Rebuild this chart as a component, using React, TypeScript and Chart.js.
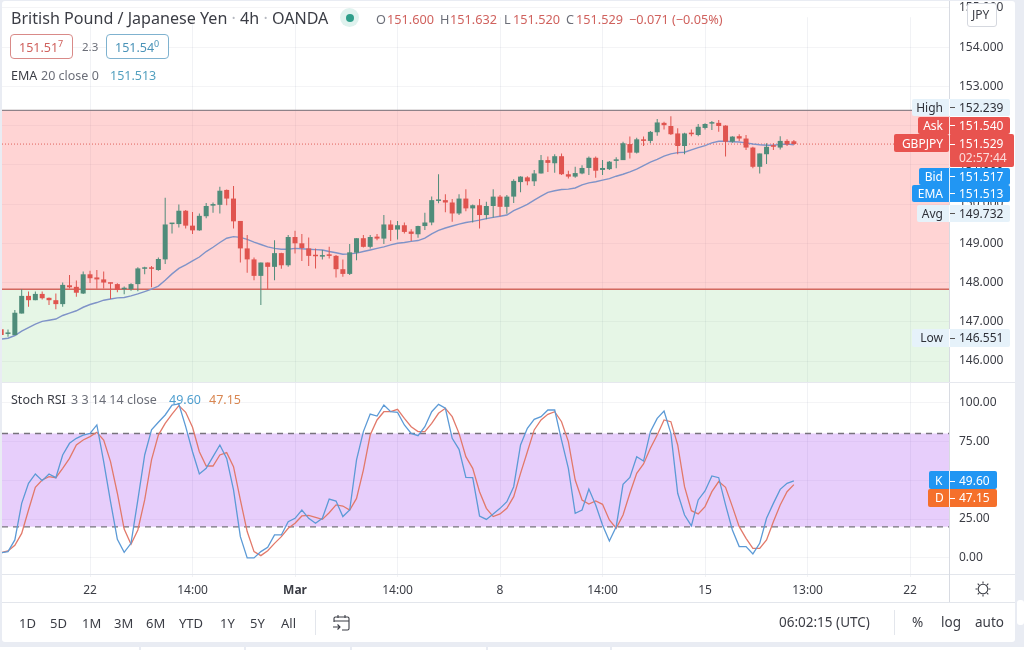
import React, { useEffect, useRef } from "react";
import { Chart, registerables } from "chart.js";

Chart.register(...registerables);

const opens = [
  146.81,146.69,146.66,147.21,147.66,147.55,147.71,147.61,147.55,147.45,147.93,147.89,147.72,
  148.21,148.13,148.08,148.00,147.96,147.83,147.83,147.96,148.35,148.37,
  148.32,148.59,149.49,149.49,149.83,149.45,149.33,149.69,149.96,149.98,
  150.36,150.14,149.57,148.87,148.59,148.17,148.51,148.40,148.75,148.44,
  149.16,149.00,148.87,148.68,148.66,148.70,148.68,148.34,148.22,148.76,
  149.13,148.91,149.17,149.12,149.48,149.35,149.46,149.30,149.23,149.44,
  149.53,150.08,150.10,150.04,149.76,150.14,149.89,149.97,149.72,149.95,
  150.19,149.93,150.19,150.56,150.68,150.58,150.78,151.12,151.04,151.22,
  150.76,150.70,150.78,150.92,151.18,150.87,150.89,151.10,151.12,151.53,
  151.31,151.65,151.61,151.83,152.07,151.99,151.80,151.48,151.82,151.76,
  151.94,152.05,152.07,152.00,151.59,151.73,151.67,151.44,150.95,151.27,
  151.50,151.44,151.61,151.600,
];
const highs = [
  146.83,146.80,147.30,147.83,147.77,147.77,147.77,147.62,147.72,148.00,148.19,148.05,148.28,
  148.30,148.32,148.28,148.00,147.98,147.90,147.98,148.39,148.40,148.42,
  148.64,150.16,149.52,149.99,149.85,149.80,149.76,150.03,150.04,150.44,
  150.37,150.46,149.57,149.21,148.64,148.51,148.51,149.08,148.76,149.21,
  149.32,149.24,149.15,148.87,148.83,148.91,148.70,148.59,148.98,149.13,
  149.21,149.21,149.24,149.72,149.59,149.57,149.53,149.36,149.45,149.78,
  150.19,150.76,150.25,150.13,150.25,150.38,149.99,150.13,150.06,150.38,
  150.23,150.23,150.63,150.71,150.71,150.87,151.25,151.21,151.27,151.29,
  150.85,150.95,150.99,151.21,151.21,151.12,151.10,151.19,151.59,151.72,
  151.69,151.72,151.86,152.17,152.10,152.24,151.93,151.82,151.90,152.04,
  152.06,152.12,152.14,152.01,151.73,151.78,151.76,151.46,151.29,151.55,
  151.55,151.73,151.65,151.632,
];
const lows = [
  146.65,146.62,146.66,147.21,147.38,147.55,147.57,147.43,147.32,147.38,147.85,147.64,147.71,
  147.99,147.84,147.85,147.58,147.75,147.70,147.79,147.78,148.21,147.88,
  148.30,148.47,149.25,149.40,149.38,149.24,149.32,149.64,149.78,149.76,
  149.97,149.38,148.51,148.25,148.06,147.43,147.83,148.06,148.35,148.40,
  148.74,148.55,148.42,148.36,148.59,148.61,148.13,148.15,148.19,148.57,
  148.89,148.87,149.08,148.98,149.06,149.10,149.25,149.06,149.14,149.34,
  149.46,150.02,149.79,149.55,149.72,149.82,149.53,149.38,149.61,149.66,
  149.69,149.75,150.03,150.30,150.48,150.46,150.78,150.82,150.80,150.74,
  150.65,150.67,150.76,150.74,150.67,150.74,150.87,150.91,151.12,151.16,
  151.29,151.48,151.55,151.74,151.90,151.76,151.27,151.27,151.73,151.73,
  151.90,151.89,151.84,151.21,151.56,151.61,151.38,150.91,150.78,151.02,
  151.38,151.39,151.48,151.520,
];
const closes = [
  146.66,146.70,147.23,147.66,147.55,147.71,147.60,147.55,147.45,147.94,147.88,147.74,148.21,
  148.11,148.08,148.00,147.97,147.81,147.84,147.96,148.36,148.37,148.35,
  148.60,149.48,149.51,149.83,149.45,149.33,149.70,149.95,150.00,150.34,
  150.14,149.56,148.87,148.59,148.17,148.51,148.40,148.75,148.44,149.16,
  149.00,148.88,148.68,148.67,148.70,148.68,148.34,148.22,148.77,149.13,
  148.91,149.16,149.12,149.48,149.34,149.46,149.29,149.24,149.44,149.53,
  150.10,150.10,150.04,149.76,150.14,149.89,149.97,149.72,149.95,150.19,
  149.93,150.19,150.59,150.70,150.58,150.78,151.12,151.05,151.22,150.76,
  150.70,150.79,150.92,151.18,150.85,150.92,151.08,151.14,151.55,151.31,
  151.65,151.61,151.84,152.08,152.01,151.78,151.48,151.80,151.78,151.97,
  152.04,152.07,151.99,151.59,151.72,151.67,151.44,150.95,151.29,151.46,
  151.46,151.61,151.52,151.529,
];
const emaValues = [
  146.56,146.58,146.65,146.76,146.85,146.94,147.01,147.04,147.07,147.16,147.22,147.28,147.37,
  147.44,147.49,147.55,147.58,147.61,147.62,147.66,147.71,147.77,147.83,
  147.91,148.06,148.22,148.36,148.45,148.55,148.65,148.79,148.90,149.02,
  149.13,149.17,149.15,149.10,149.03,148.97,148.91,148.87,148.85,148.85,
  148.87,148.86,148.85,148.84,148.83,148.79,148.76,148.72,148.73,148.75,
  148.79,148.83,148.87,148.91,148.96,149.00,149.02,149.05,149.07,149.13,
  149.24,149.33,149.39,149.44,149.49,149.53,149.56,149.59,149.63,149.66,
  149.69,149.72,149.83,149.91,149.99,150.10,150.20,150.30,150.34,150.37,
  150.38,150.41,150.49,150.54,150.57,150.61,150.65,150.71,150.76,150.82,
  150.89,150.98,151.07,151.14,151.22,151.28,151.31,151.32,151.38,151.44,
  151.49,151.56,151.60,151.60,151.59,151.58,151.56,151.53,151.51,151.50,
  151.50,151.52,151.53,151.513,
];
const stochK = [
  3.4,4.1,11.6,35.1,48.0,54.0,49.7,54.0,51.6,66.2,73.7,76.9,79.0,
  80.1,85.5,61.9,36.2,12.0,3.6,9.4,37.3,66.2,82.3,
  87.2,91.9,98.3,99.0,84.4,68.3,54.0,57.6,65.1,72.6,
  64.0,43.7,13.7,0,0,4.1,6.9,14.8,14.8,23.3,
  25.5,30.8,25.5,22.3,25.5,37.9,36.6,
  26.6,30.8,63.0,
  81.2,92.5,91.2,98.3,94.0,93.6,85.5,80.1,78.6,84.4,
  94.0,98.7,96.2,76.9,69.8,51.8,51.6,27.0,24.8,28.3,
  31.9,36.2,45.8,72.6,83.3,89.1,90.8,95.1,95.1,75.8,
  57.6,28.7,30.8,44.3,34.1,21.2,10.9,20.1,47.3,51.8,
  65.1,62.3,81.2,89.7,94.5,80.1,41.6,27.6,20.6,37.3,
  43.1,52.7,51.6,34.1,18.0,7.3,7.3,2.6,9.4,25.5,
  35.1,44.1,48.0,49.60,
];
const stochD = [
  3.4,4.5,8.1,15.8,30.8,45.4,50.1,52.3,51.6,57.6,64.0,72.6,75.8,
  78.0,80.8,75.8,61.9,41.6,18.6,8.8,18.0,37.3,63.0,
  79.0,86.5,92.5,97.9,93.6,84.0,68.3,59.1,59.1,66.2,
  67.7,58.7,37.3,17.0,4.1,1.5,4.7,9.4,13.7,19.1,
  22.3,27.0,27.4,26.1,24.8,29.1,34.1,
  33.4,30.8,38.3,
  56.5,79.0,88.7,94.0,94.0,95.5,89.7,84.4,81.2,81.2,
  86.5,93.0,96.2,90.8,80.1,65.1,57.6,42.6,31.9,26.6,
  28.3,31.9,39.4,54.4,68.3,82.3,88.7,92.3,94.0,87.6,
  74.8,50.1,37.3,34.7,36.6,34.5,24.4,19.1,27.6,41.6,
  54.4,60.4,70.5,79.0,88.7,87.6,72.6,45.8,30.4,28.3,
  33.0,42.6,49.1,45.4,33.0,20.1,12.6,6.2,6.2,11.6,
  23.3,34.1,42.6,47.15,
];

const firstCandle = -13;
const timeTickPositions = [0, 15, 30, 45, 60, 75, 90, 105, 120];
const timeTickLabels = ["22", "14:00", "Mar", "14:00", "8", "14:00", "15", "13:00", "22"];
const timeRange = [-12.88, 125.7];
const priceRange = [145.465, 155.15];
const stochRange = [-10.3, 113.1];
const zoneTop = 152.39;
const zoneMiddle = 147.83;
const lastPrice = 151.529;
const stochUpper = 80;
const stochLower = 20;

const FONT = '"Noto Sans", sans-serif';
const UP = "#4f8c7a";
const DOWN = "#e0544f";

const series = (vals: number[]) => vals.map((y, i) => ({ x: firstCandle + i, y }));
const flat = (y: number) => timeRange.map((x) => ({ x, y }));

function buildDatasets(): any[] {
  const colors = closes.map((c, i) => (c >= opens[i] ? UP : DOWN));
  const line = { type: "line", pointRadius: 0, tension: 0, fill: false };
  return [
    { ...line, label: "Above", data: flat(zoneTop), yAxisID: "y", order: 20, borderColor: "#8f8289", borderWidth: 1.2,
      fill: { target: { value: zoneMiddle }, above: "rgba(255,120,120,0.32)", below: "rgba(255,120,120,0.32)" } },
    { ...line, label: "Below", data: flat(zoneMiddle), yAxisID: "y", order: 19, borderColor: "#d2695f", borderWidth: 1.6,
      fill: { target: { value: priceRange[0] }, above: "rgba(120,205,120,0.19)", below: "rgba(120,205,120,0.19)" } },
    { ...line, label: "Last", data: flat(lastPrice), yAxisID: "y", order: 18, borderColor: "#e0605a", borderWidth: 1, borderDash: [1, 2] },
    { ...line, label: "Upper", data: flat(stochUpper), yAxisID: "y2", order: 17, borderColor: "#77737c", borderWidth: 1.3, borderDash: [6, 5],
      fill: { target: { value: stochLower }, above: "rgba(170,80,240,0.28)", below: "rgba(170,80,240,0.28)" } },
    { ...line, label: "Lower", data: flat(stochLower), yAxisID: "y2", order: 16, borderColor: "#77737c", borderWidth: 1.3, borderDash: [6, 5] },
    { ...line, label: "EMA", data: series(emaValues), yAxisID: "y", order: 12, borderColor: "#7f93c8", borderWidth: 1.4 },
    { type: "bar", label: "Wicks", yAxisID: "y", order: 11, grouped: false, barThickness: 1, inflateAmount: 0, borderSkipped: false, borderWidth: 0,
      backgroundColor: colors, data: lows.map((l, i) => ({ x: firstCandle + i, y: [l, highs[i]] })) },
    { type: "bar", label: "Bodies", yAxisID: "y", order: 10, grouped: false, barThickness: 5, inflateAmount: 0, minBarLength: 1.5, borderSkipped: false, borderWidth: 0,
      backgroundColor: colors, data: opens.map((o, i) => ({ x: firstCandle + i, y: [o, closes[i]] })) },
    { ...line, label: "D", data: series(stochD), yAxisID: "y2", order: 3, borderColor: "#e2796a", borderWidth: 1.3 },
    { ...line, label: "K", data: series(stochK), yAxisID: "y2", order: 2, borderColor: "#5c9ad6", borderWidth: 1.3 },
  ];
}

const placePane = (s: any, top: number, bottom: number) => {
  s.top = top;
  s.bottom = bottom;
  s.height = bottom - top;
  s._margins = { left: 0, right: 0, top: 0, bottom: 0 };
  s.configure();
};
const paneLayout = {
  id: "paneLayout",
  afterLayout(chart: any) {
    placePane(chart.scales.y, 2, 382);
    placePane(chart.scales.y2, 382, 574);
  },
};

const T = ({ x, y, c = "#3b3d45", s = 13, right, w, children }: any) => (
  <div style={{ position: "absolute", left: right === undefined ? x : undefined, right: right === undefined ? undefined : 1024 - right, top: y, transform: "translateY(-50%)",
    color: c, fontSize: s, fontWeight: w || 400, whiteSpace: "nowrap", lineHeight: 1, fontFamily: FONT }}>{children}</div>
);
const Box = ({ l, t, r, b, bg, rad = 0, extra }: any) => (
  <div style={{ position: "absolute", left: l, top: t, width: r - l, height: b - t, background: bg, borderRadius: rad, ...extra }} />
);
const Pill = ({ l, t, b, r = 1010, bg, label, value, fg = "#fff", lc }: any) => (
  <>
    <Box l={l} t={t} r={r} b={b} bg={bg} rad={2} />
    <Box l={949} t={t} r={950} b={b} bg="rgba(255,255,255,0.85)" />
    <Box l={950} t={(t + b) / 2 - 0.5} r={955} b={(t + b) / 2 + 0.5} bg={fg === "#fff" ? "#fff" : "#555"} />
    <T right={943} y={(t + b) / 2} c={lc || fg} s={12}>{label}</T>
    <T x={959} y={(t + b) / 2} c={fg} s={12}>{value}</T>
  </>
);

export default function App() {
  const ref = useRef<HTMLCanvasElement>(null);
  useEffect(() => {
    if (!ref.current) return;
    const tickFont = { family: FONT, size: 12 };
    const chart = new Chart(ref.current, {
      type: "bar",
      plugins: [paneLayout],
      data: { datasets: buildDatasets() },
      options: {
        responsive: false,
        animation: false,
        events: [],
        layout: { autoPadding: false, padding: { left: 2, top: 2, right: 9, bottom: 48 } },
        plugins: { legend: { display: false }, tooltip: { enabled: false }, title: { display: false } },
        scales: {
          x: {
            type: "linear", offset: false, min: timeRange[0], max: timeRange[1], position: "bottom",
            grid: { offset: false, color: "rgba(60,70,110,0.07)", tickLength: 3, drawTicks: true },
            border: { display: false },
            afterBuildTicks: (s: any) => { s.ticks = timeTickPositions.map((value) => ({ value })); },
            afterFit: (s: any) => { s.height = 28; },
            ticks: {
              autoSkip: false, maxRotation: 0, color: "#3b3d45", padding: 6,
              font: (ctx: any) => ({ ...tickFont, weight: ctx.tick && ctx.tick.value === 30 ? "bold" : "normal" }),
              callback: (v: any) => timeTickLabels[timeTickPositions.indexOf(v)] ?? "",
            },
          },
          y: {
            type: "linear", position: "right", stack: "panes", stackWeight: 380, min: priceRange[0], max: priceRange[1],
            grid: { color: "rgba(60,70,110,0.06)", drawTicks: false },
            border: { display: false },
            afterFit: (s: any) => { s.width = 66; },
            ticks: { stepSize: 1, includeBounds: false, color: "#3b3d45", font: tickFont, padding: 10, callback: (v: any) => Number(v).toFixed(3) },
          },
          y2: {
            type: "linear", position: "right", stack: "panes", stackWeight: 192, min: stochRange[0], max: stochRange[1],
            grid: { color: "rgba(60,70,110,0.06)", drawTicks: false },
            border: { display: false },
            afterFit: (s: any) => { s.width = 66; },
            ticks: { stepSize: 25, includeBounds: false, color: "#3b3d45", font: tickFont, padding: 10, callback: (v: any) => Number(v).toFixed(2) },
          },
        },
      } as any,
    } as any);
    return () => chart.destroy();
  }, []);

  const valRed = "#d0625e";
  const lab = "#6b6e78";
  const hair = "#e3e6ec";
  return (
    <div style={{ position: "fixed", left: 0, top: 0, width: 1024, height: 650, overflow: "hidden", background: "#e9ecf3", fontFamily: FONT }}>
      <Box l={2} t={1} r={1015} b={642} bg="#fff" rad={3} />
      <Box l={0} t={647} r={139} b={650} bg="#fff" />
      <Box l={141} t={647} r={244} b={650} bg="#fff" />
      <Box l={246} t={647} r={350} b={650} bg="#fff" />
      <Box l={352} t={647} r={486} b={650} bg="#fff" />
      <Box l={488} t={647} r={610} b={650} bg="#fff" />
      <Box l={612} t={647} r={1024} b={650} bg="#fff" />
      <Box l={1017} t={600} r={1024} b={625} bg="#fff" rad={3} />
      <canvas ref={ref} width={1024} height={650} style={{ position: "absolute", left: 0, top: 0, display: "block" }} />

      <Box l={2} t={574} r={1015} b={575} bg={hair} />
      <Box l={2} t={602} r={1015} b={603} bg={hair} />
      <Box l={949} t={1} r={950} b={602} bg="#d8dbe2" />
      <Box l={2} t={382} r={1015} b={383} bg="#e6e8ee" />

      <T x={11} y={18} s={16.1}>British Pound / Japanese Yen <span style={{ color: "#b5b8c0" }}>·</span> 4h <span style={{ color: "#b5b8c0" }}>·</span> OANDA</T>
      <Box l={340} t={8} r={359} b={27} bg="#dff2ee" rad={10} />
      <Box l={346} t={14} r={354} b={22} bg="#2e9e8a" rad={4} />
      <T x={376} y={19} c={lab} s={12.7}>O</T><T x={387} y={19} c={valRed} s={12.7}>151.600</T>
      <T x={440} y={19} c={lab} s={12.7}>H</T><T x={450} y={19} c={valRed} s={12.7}>151.632</T>
      <T x={504} y={19} c={lab} s={12.7}>L</T><T x={513} y={19} c={valRed} s={12.7}>151.520</T>
      <T x={566} y={19} c={lab} s={12.7}>C</T><T x={576} y={19} c={valRed} s={12.7}>151.529</T>
      <T x={629} y={19} c={valRed} s={12.7}>−0.071 (−0.05%)</T>

      <div style={{ position: "absolute", left: 10, top: 34, width: 63, height: 25, boxSizing: "border-box", border: "1px solid #d98a88", borderRadius: 4, background: "#fff" }} />
      <T x={19} y={47} c={valRed} s={12.5}>151.51<sup style={{ fontSize: 9 }}>7</sup></T>
      <T x={82} y={47} c={lab} s={11.5}>2.3</T>
      <div style={{ position: "absolute", left: 106, top: 34, width: 63, height: 25, boxSizing: "border-box", border: "1px solid #7fb2cf", borderRadius: 4, background: "#fff" }} />
      <T x={115} y={47} c="#4a93b8" s={12.5}>151.54<sup style={{ fontSize: 9 }}>0</sup></T>

      <T x={11} y={76} s={12.5}>EMA</T>
      <T x={41} y={76} c={lab} s={12.5}>20 close 0</T>
      <T x={110} y={76} c="#53a0bf" s={12.5}>151.513</T>

      <T x={11} y={400} s={12.5}>Stoch RSI</T>
      <T x={71} y={400} c={lab} s={12.5}>3 3 14 14 close</T>
      <T x={169} y={400} c="#4f9fcf" s={12.5}>49.60</T>
      <T x={209} y={400} c="#d98752" s={12.5}>47.15</T>

      <div style={{ position: "absolute", left: 967, top: 3, width: 30, height: 24, boxSizing: "border-box", border: "1px solid #d5d8df", borderRadius: 3, background: "#fff" }} />
      <T x={972} y={15} s={12}>JPY</T>

      <Pill l={912} t={99} b={116} bg="#e6f2fa" label="High" value="152.239" fg="#2e3038" />
      <Pill l={918} t={117} b={134} bg="#e8534f" label="Ask" value="151.540" />
      <Box l={894} t={134} r={949} b={152} bg="#e8534f" rad={2} />
      <Box l={949} t={134} r={1014} b={167} bg="#e8534f" rad={2} />
      <Box l={949} t={134} r={950} b={167} bg="rgba(255,255,255,0.85)" />
      <Box l={950} t={143.5} r={955} b={144.5} bg="#fff" />
      <T right={943} y={144} c="#fff" s={12}>GBPJPY</T>
      <T x={959} y={144} c="#fff" s={12}>151.529</T>
      <T x={959} y={158} c="#fbdcdb" s={12}>02:57:44</T>
      <Pill l={919} t={168} b={185} bg="#2196f3" label="Bid" value="151.517" />
      <Pill l={912} t={185} b={202} bg="#2196f3" label="EMA" value="151.513" />
      <Pill l={917} t={205} b={222} bg="#e6f2fa" label="Avg" value="149.732" fg="#2e3038" />
      <Box l={912} t={329} r={1010} b={347} bg="#e6f2fa" rad={2} />
      <Box l={949} t={329} r={950} b={347} bg="rgba(255,255,255,0.85)" />
      <Box l={950} t={337.5} r={955} b={338.5} bg="#555" />
      <T right={943} y={338} c="#2e3038" s={12}>Low</T>
      <T x={959} y={338} c="#2e3038" s={12}>146.551</T>

      <Box l={929} t={471} r={997} b={489} bg="#2196f3" rad={2} />
      <Box l={928} t={489} r={997} b={507} bg="#f5702b" rad={2} />
      <Box l={949} t={471} r={950} b={507} bg="rgba(255,255,255,0.85)" />
      <Box l={950} t={480.5} r={955} b={481.5} bg="#fff" />
      <Box l={950} t={497.5} r={955} b={498.5} bg="#fff" />
      <T x={935} y={481} c="#fff" s={12}>K</T>
      <T x={959} y={481} c="#fff" s={12}>49.60</T>
      <T x={935} y={498} c="#fff" s={12}>D</T>
      <T x={959} y={498} c="#fff" s={12}>47.15</T>

      <svg style={{ position: "absolute", left: 974, top: 580 }} width="18" height="18" viewBox="0 0 18 18" fill="none" stroke="#3b3d45" strokeWidth="1.1">
        <circle cx="9" cy="9" r="4.8" />
        <path d="M9 1.5v2M9 14.5v2M1.5 9h2M14.5 9h2M3.7 3.7l1.4 1.4M12.9 12.9l1.4 1.4M3.7 14.3l1.4-1.4M12.9 5.1l1.4-1.4" />
      </svg>

      <T x={19} y={623} s={13}>1D</T>
      <T x={50} y={623} s={13}>5D</T>
      <T x={82} y={623} s={13}>1M</T>
      <T x={114} y={623} s={13}>3M</T>
      <T x={146} y={623} s={13}>6M</T>
      <T x={179} y={623} s={13}>YTD</T>
      <T x={220} y={623} s={13}>1Y</T>
      <T x={250} y={623} s={13}>5Y</T>
      <T x={281} y={623} s={13}>All</T>
      <Box l={315} t={610} r={316} b={635} bg={hair} />
      <svg style={{ position: "absolute", left: 332, top: 614 }} width="19" height="18" viewBox="0 0 19 18" fill="none" stroke="#3b3d45" strokeWidth="1.1">
        <path d="M2 8V4.5a1.5 1.5 0 0 1 1.5-1.5h12A1.5 1.5 0 0 1 17 4.5v10a1.5 1.5 0 0 1-1.5 1.5H10M2 7h15M6 1v3M13 1v3M1 13h7M5.5 10.5L8 13l-2.5 2.5" />
      </svg>
      <T x={779} y={623} s={13.5}>06:02:15 (UTC)</T>
      <Box l={894} t={610} r={895} b={635} bg={hair} />
      <T x={912} y={623} s={13.5}>%</T>
      <T x={941} y={623} s={13.5}>log</T>
      <T x={975} y={623} s={13.5}>auto</T>
    </div>
  );
}
